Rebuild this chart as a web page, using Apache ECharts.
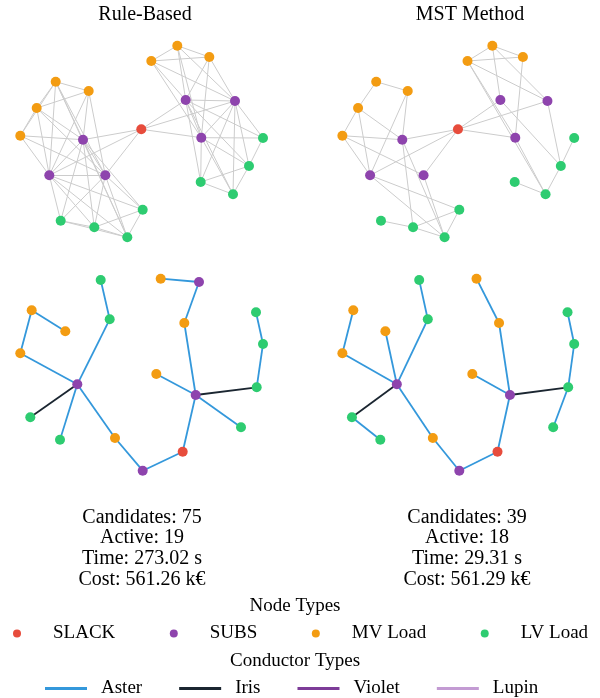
<!DOCTYPE html>
<html>
<head>
<meta charset="utf-8">
<script src="https://cdn.jsdelivr.net/npm/echarts@6/dist/echarts.min.js"></script>
<style>html,body{margin:0;padding:0;background:#fff}#chart{width:600px;height:698px}</style>
</head>
<body>
<div id="chart"></div>
<script>
// ---------- data ----------
const methodNames = ['Rule-Based', 'MST Method'];
const candidatesCount = [75, 39];
const activeCount = [19, 18];
const timeSec = ['273.02', '29.31'];
const costKEur = ['561.26', '561.29'];

const nodeTypes = ['SLACK', 'SUBS', 'MV Load', 'LV Load'];
const nodeColors = ['#e74c3c', '#8e44ad', '#f39c12', '#2ecc71'];
const conductorTypes = ['Aster', 'Iris', 'Violet', 'Lupin'];
const conductorColors = ['#3498db', '#1b2631', '#7d3c98', '#c39bd3'];

// candidate-network layout (top row)
const candNodes = ['R','O1','O2','O3','O4','O5','O6','O7','P1','P2','P3','P4','P5','P6','G1','G2','G3','G4','G5','G6','G7','G8'];
const candX = [141.3,177.3,151.3,209.3,55.7,88.7,36.7,20.3,185.7,235,201.3,83,49.3,105.3,263,249,200.7,233,142.7,60.7,94.3,127.3];
const candY = [99.3,15.7,31,27,51.7,61,78,105.7,70,71,107.7,109.7,145.3,145.3,108,136,152,164.3,179.7,190.7,197.3,207.3];
const candType = [0,2,2,2,2,2,2,2,1,1,1,1,1,1,3,3,3,3,3,3,3,3];

const ruleCandidateEdges = [
  ['O4','O5'],['O4','O6'],['O4','O7'],['O5','O6'],['O6','O7'],
  ['O4','P4'],['O4','P5'],['O4','P6'],['O5','P4'],['O5','P5'],['O5','P6'],
  ['O6','P4'],['O6','P5'],['O6','P6'],['O7','P4'],['O7','P5'],['O7','P6'],
  ['P4','P5'],['P4','P6'],['P5','P6'],
  ['P4','G5'],['P4','G6'],['P4','G7'],['P4','G8'],['P5','G5'],['P5','G6'],['P5','G7'],['P5','G8'],
  ['P6','G5'],['P6','G6'],['P6','G7'],['P6','G8'],
  ['G5','G7'],['G5','G8'],['G6','G7'],['G6','G8'],['G7','G8'],['O4','G8'],
  ['R','P4'],['R','P5'],['R','P6'],
  ['O1','O2'],['O1','O3'],['O2','O3'],['O1','P1'],['O1','P2'],['O1','P3'],
  ['O2','P1'],['O2','P2'],['O2','P3'],['O3','P1'],['O3','P2'],['O3','P3'],
  ['P1','P2'],['P1','P3'],['P2','P3'],['R','P1'],['R','P2'],['R','P3'],
  ['P1','G1'],['P1','G2'],['P1','G3'],['P1','G4'],['P2','G1'],['P2','G2'],['P2','G3'],['P2','G4'],
  ['P3','G1'],['P3','G2'],['P3','G3'],['P3','G4'],
  ['G1','G2'],['G2','G3'],['G2','G4'],['G3','G4']
];
const mstCandidateEdges = [
  ['O4','O5'],['O4','O6'],['O6','O7'],['O6','P4'],['O6','P5'],['O7','P4'],['O7','P5'],['O7','P6'],
  ['O5','P5'],['O5','P4'],['R','P4'],['R','P5'],['R','P6'],['P4','G7'],['P4','G8'],['P6','G8'],
  ['P5','G5'],['P5','G8'],['G6','G7'],['G7','G5'],['G7','G8'],['G5','G8'],
  ['O1','O2'],['O1','O3'],['O2','O3'],['O1','P1'],['O1','P2'],['O2','P2'],['O2','P3'],['O2','G4'],
  ['O3','P3'],['R','P1'],['R','P2'],['R','P3'],['P1','G2'],['P3','G4'],['P2','G2'],
  ['G1','G2'],['G2','G4'],['G3','G4']
];

// active-network layout (bottom row)
const actNodes = ['Rb','Pb1','Pb2','Pb3','Pb4','Ob1','Ob2','Ob3','Ob4','Ob5','Ob6','Ob7','Gb1','Gb2','Gb3','Gb4','Gb5','Gb6','Gb7','Gb8'];
const actX = [182.7,199,195.7,142.7,77.3,160.7,184.3,156.3,115,20.3,31.7,65.3,256.7,263,256,241,30.3,60,109.7,100.7];
const actY = [191.7,22,135,210.7,124.3,18.7,63,114,178,93.3,50.3,71.3,127.3,84,52.3,167.3,157.3,179.7,59.3,20];
const actType = [0,1,1,1,1,2,2,2,2,2,2,2,3,3,3,3,3,3,3,3];

const ruleActiveEdges = [
  ['Ob1','Pb1','Aster'],['Pb1','Ob2','Aster'],['Ob2','Pb2','Aster'],['Ob3','Pb2','Aster'],
  ['Pb2','Gb1','Iris'],['Gb1','Gb2','Aster'],['Gb2','Gb3','Aster'],['Pb2','Gb4','Aster'],
  ['Pb2','Rb','Aster'],['Rb','Pb3','Aster'],['Pb3','Ob4','Aster'],['Ob4','Pb4','Aster'],
  ['Pb4','Gb5','Iris'],['Pb4','Gb6','Aster'],['Pb4','Ob5','Aster'],['Ob5','Ob6','Aster'],
  ['Ob6','Ob7','Aster'],['Pb4','Gb7','Aster'],['Gb7','Gb8','Aster']
];
const mstActiveEdges = [
  ['Ob1','Ob2','Aster'],['Ob2','Pb2','Aster'],['Ob3','Pb2','Aster'],['Pb2','Gb1','Iris'],
  ['Gb1','Gb2','Aster'],['Gb2','Gb3','Aster'],['Gb1','Gb4','Aster'],['Pb2','Rb','Aster'],
  ['Rb','Pb3','Aster'],['Pb3','Ob4','Aster'],['Ob4','Pb4','Aster'],['Pb4','Gb5','Iris'],
  ['Gb5','Gb6','Aster'],['Pb4','Ob5','Aster'],['Ob5','Ob6','Aster'],['Pb4','Ob7','Aster'],
  ['Pb4','Gb7','Aster'],['Gb7','Gb8','Aster']
];

// ---------- chart ----------
const FONT = "'Liberation Serif','Times New Roman',serif";
const chart = echarts.init(document.getElementById('chart'), null, {renderer: 'canvas'});

const panels = [
  {left: 0, top: 30}, {left: 323, top: 30},
  {left: 0, top: 260}, {left: 323, top: 260}
];
const grids = panels.map(p => ({left: p.left, top: p.top, width: 290, height: 220}));
const xAxes = panels.map((p, i) => ({type: 'value', gridIndex: i, min: 0, max: 290, show: false}));
const yAxes = panels.map((p, i) => ({type: 'value', gridIndex: i, min: 0, max: 220, inverse: true, show: false}));

const categories = nodeTypes.map((n, k) => ({name: n, itemStyle: {color: nodeColors[k]}}));

function nodeData(names, xs, ys, types, keep) {
  const out = [];
  names.forEach((n, i) => {
    if (keep && !keep.has(n)) return;
    out.push({name: n, value: [xs[i], ys[i]], category: types[i]});
  });
  return out;
}
function usedNodes(edges) {
  const s = new Set();
  edges.forEach(e => { s.add(e[0]); s.add(e[1]); });
  return s;
}
function graphSeries(idx, data, links, lineStyle) {
  return {
    type: 'graph', coordinateSystem: 'cartesian2d', xAxisIndex: idx, yAxisIndex: idx,
    symbol: 'circle', symbolSize: 10, categories: categories,
    data: data, links: links, lineStyle: lineStyle, label: {show: false},
    itemStyle: {borderWidth: 0}, silent: true, animation: false
  };
}

const series = [
  graphSeries(0, nodeData(candNodes, candX, candY, candType),
    ruleCandidateEdges.map(e => ({source: e[0], target: e[1]})),
    {color: '#cccccc', width: 1, opacity: 1, curveness: 0}),
  graphSeries(1, nodeData(candNodes, candX, candY, candType),
    mstCandidateEdges.map(e => ({source: e[0], target: e[1]})),
    {color: '#cccccc', width: 1, opacity: 1, curveness: 0}),
  graphSeries(2, nodeData(actNodes, actX, actY, actType, usedNodes(ruleActiveEdges)),
    ruleActiveEdges.map(e => ({source: e[0], target: e[1], lineStyle: {color: conductorColors[conductorTypes.indexOf(e[2])]}})),
    {width: 1.8, opacity: 1, curveness: 0}),
  graphSeries(3, nodeData(actNodes, actX, actY, actType, usedNodes(mstActiveEdges)),
    mstActiveEdges.map(e => ({source: e[0], target: e[1], lineStyle: {color: conductorColors[conductorTypes.indexOf(e[2])]}})),
    {width: 1.8, opacity: 1, curveness: 0})
];
conductorTypes.forEach((c, k) => {
  series.push({type: 'line', name: c, data: [], xAxisIndex: 0, yAxisIndex: 0,
    color: conductorColors[k], lineStyle: {color: conductorColors[k], width: 3}, itemStyle: {color: conductorColors[k]}});
});

const centersX = [142, 467];
const graphic = [];
methodNames.forEach((m, i) => {
  graphic.push({type: 'text', x: centersX[i] + 3, y: 15, silent: true,
    style: {text: m, font: '20px ' + FONT, fill: '#000', textAlign: 'center', textVerticalAlign: 'middle'}});
  graphic.push({type: 'text', x: centersX[i], y: 507, silent: true,
    style: {text: 'Candidates: ' + candidatesCount[i] + '\nActive: ' + activeCount[i] + '\nTime: ' + timeSec[i] + ' s\nCost: ' + costKEur[i] + ' k€',
      font: '20px ' + FONT, fill: '#000', textAlign: 'center', textVerticalAlign: 'top', lineHeight: 20.8}});
});
graphic.push({type: 'text', x: 295, y: 606, silent: true,
  style: {text: 'Node Types', font: '19px ' + FONT, fill: '#000', textAlign: 'center', textVerticalAlign: 'middle'}});
graphic.push({type: 'text', x: 295, y: 661, silent: true,
  style: {text: 'Conductor Types', font: '19px ' + FONT, fill: '#000', textAlign: 'center', textVerticalAlign: 'middle'}});

chart.setOption({
  animation: false,
  grid: grids, xAxis: xAxes, yAxis: yAxes,
  series: series,
  graphic: graphic,
  legend: [
    {data: nodeTypes.map(n => ({name: n, icon: 'circle'})), left: 13, top: 624, padding: 0,
     itemWidth: 8, itemHeight: 8, itemGap: 54.5, selectedMode: false,
     textStyle: {fontFamily: FONT, fontSize: 19, color: '#000', padding: [0, 0, 0, 27]}},
    {data: conductorTypes.map(n => ({name: n, icon: 'rect'})), left: 45, top: 679, padding: 0,
     itemWidth: 42, itemHeight: 3, itemGap: 37, selectedMode: false,
     textStyle: {fontFamily: FONT, fontSize: 19, color: '#000', padding: [0, 0, 0, 9]}}
  ]
});
</script>
</body>
</html>
